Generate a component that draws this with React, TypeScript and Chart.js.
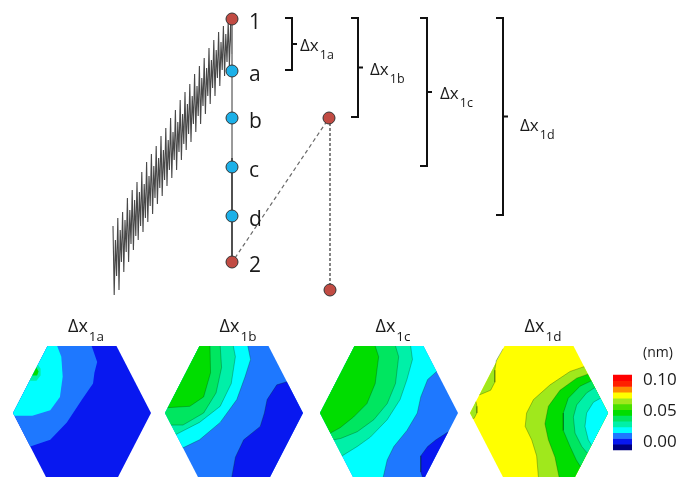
import { useEffect, useRef } from 'react';
import { Chart, registerables } from 'chart.js';

Chart.register(...registerables);

const FONT = '"Open Sans", "Noto Sans", "DejaVu Sans", sans-serif';
const INK = '#1a1a1a';
const W = 677;
const H = 477;

// ---------------- data ----------------
// force trace (sawtooth): alternating local maxima / minima (figure y units)
const sawPeaks = [226, 240, 218, 230, 212, 220, 198, 210, 190, 200, 182, 192, 172, 184, 162, 176, 154, 166, 146, 158, 136, 150, 128, 140, 118, 132, 110, 122, 100, 114, 92, 104, 84, 96, 74, 86, 66, 78, 58, 68, 48, 60, 40, 50, 32, 42, 26, 34, 22, 24];
const sawTroughs = [295, 276, 290, 262, 272, 252, 262, 244, 250, 236, 240, 226, 232, 218, 222, 206, 214, 198, 204, 188, 196, 180, 186, 170, 178, 160, 170, 152, 160, 144, 150, 134, 142, 124, 132, 116, 124, 106, 114, 96, 104, 88, 96, 78, 86, 70, 76, 62, 66, 54];

// stops along the unloading path
const stopNames = ['1', 'a', 'b', 'c', 'd', '2'];
const stopY = [19, 71, 118, 167, 216, 262];
const stopIsEnd = [true, false, false, false, false, true];

// projected point (dashed construction)
const sideY = [118, 290];

// brackets Δx_1a .. Δx_1d (span from stop 1 to stop a..d)
const bracketSubs = ['1a', '1b', '1c', '1d'];
const bracketStop = [1, 2, 3, 4];

// contour levels (low -> high), colour bar labels
const levelColors = ['#000080', '#0818f0', '#1e78ff', '#00ffff', '#00f0a8', '#00e660', '#00dd00', '#48e000', '#a0e81c', '#ffff00', '#ff8c00', '#ff2000', '#ff0000'];
const colorbarTicks = ['0.10', '0.05', '0.00'];
const colorbarTickVals = [0.1, 0.05, 0.0];
const unitLabel = '(nm)';

// hexagon contour maps: [level, contour curve (u,v), closing hex vertices]
type P = [number, number];
type Region = [number, P[], P[]];
const hexTitles = ['1a', '1b', '1c', '1d'];
const hexBaseLevel = [1, 2, 2, 9];
const hex1a: Region[] = [
  [2, [[0.57, 0], [0.61, 0.12], [0.59, 0.2], [0.58, 0.28], [0.5, 0.4], [0.39, 0.57], [0.27, 0.7], [0.125, 0.75]], [[0, 0.5], [0.25, 0]]],
  [3, [[0.32, 0], [0.35, 0.08], [0.36, 0.23], [0.34, 0.38], [0.27, 0.48], [0.14, 0.52], [0.01, 0.52]], [[0, 0.5], [0.25, 0]]],
  [4, [[0.18, 0.14], [0.2, 0.17], [0.2, 0.22], [0.17, 0.26], [0.12, 0.26]], []],
  [6, [[0.17, 0.16], [0.185, 0.19], [0.175, 0.22], [0.14, 0.22]], []],
];
const hex1b: Region[] = [
  [1, [[0.883, 0.266], [0.81, 0.29], [0.74, 0.4], [0.72, 0.5], [0.69, 0.6], [0.57, 0.7], [0.51, 0.83], [0.48, 1]], [[0.75, 1], [1, 0.5]]],
  [3, [[0.6, 0], [0.62, 0.1], [0.58, 0.23], [0.52, 0.4], [0.4, 0.57], [0.25, 0.7], [0.13, 0.76]], [[0, 0.5], [0.25, 0]]],
  [4, [[0.495, 0], [0.51, 0.08], [0.48, 0.28], [0.4, 0.45], [0.25, 0.57], [0.08, 0.66]], [[0, 0.5], [0.25, 0]]],
  [5, [[0.4, 0], [0.41, 0.16], [0.37, 0.35], [0.28, 0.5], [0.13, 0.59], [0.045, 0.59]], [[0, 0.5], [0.25, 0]]],
  [6, [[0.326, 0], [0.33, 0.2], [0.28, 0.38], [0.18, 0.45], [0.02, 0.46]], [[0.25, 0]]],
];
const hex1c: Region[] = [
  [1, [[0.93, 0.64], [0.84, 0.7], [0.78, 0.75], [0.73, 0.82], [0.73, 0.94], [0.75, 1]], []],
  [3, [[0.845, 0.19], [0.78, 0.25], [0.73, 0.38], [0.705, 0.5], [0.63, 0.63], [0.535, 0.75], [0.487, 0.85], [0.46, 0.97], [0.455, 1]], [[0.25, 1], [0, 0.5], [0.25, 0], [0.75, 0]]],
  [4, [[0.657, 0], [0.67, 0.1], [0.63, 0.25], [0.58, 0.4], [0.487, 0.55], [0.365, 0.68], [0.27, 0.75], [0.16, 0.82]], [[0, 0.5], [0.25, 0]]],
  [5, [[0.547, 0], [0.57, 0.08], [0.547, 0.28], [0.487, 0.43], [0.39, 0.55], [0.27, 0.64], [0.15, 0.69], [0.1, 0.7]], [[0, 0.5], [0.25, 0]]],
  [6, [[0.4, 0], [0.425, 0.08], [0.4, 0.28], [0.34, 0.43], [0.243, 0.53], [0.146, 0.61], [0.075, 0.65]], [[0, 0.5], [0.25, 0]]],
];
const hex1d: Region[] = [
  [8, [[0.24, 0.02], [0.19, 0.11], [0.18, 0.18], [0.18, 0.27], [0.15, 0.33], [0.068, 0.365]], []],
  [8, [[0.043, 0.415], [0.05, 0.45], [0.05, 0.5], [0.03, 0.54], [0.02, 0.54]], [[0, 0.5]]],
  [8, [[0.827, 0.154], [0.725, 0.19], [0.58, 0.29], [0.46, 0.4], [0.41, 0.5], [0.4, 0.6], [0.447, 0.7], [0.483, 0.82], [0.495, 0.97], [0.5, 1]], [[0.75, 1], [1, 0.5]]],
  [6, [[0.855, 0.21], [0.773, 0.24], [0.652, 0.33], [0.568, 0.45], [0.543, 0.58], [0.568, 0.7], [0.616, 0.83], [0.64, 0.95], [0.65, 1]], [[0.75, 1], [1, 0.5]]],
  [5, [[0.88, 0.26], [0.797, 0.3], [0.712, 0.39], [0.676, 0.5], [0.676, 0.63], [0.725, 0.75], [0.77, 0.85], [0.8, 0.9]], [[1, 0.5]]],
  [4, [[0.905, 0.31], [0.845, 0.35], [0.773, 0.44], [0.749, 0.53], [0.761, 0.65], [0.81, 0.75], [0.85, 0.8]], [[1, 0.5]]],
  [3, [[0.945, 0.39], [0.894, 0.42], [0.845, 0.5], [0.833, 0.6], [0.857, 0.7], [0.88, 0.74]], [[1, 0.5]]],
];
const hexRegions = [hex1a, hex1b, hex1c, hex1d];
const hexContourLines = [false, true, true, true];

// ---------------- layout ----------------
const SAW_X0 = 113;
const SAW_STEP = 1.2;
const PATH_X = 232;
const PATH_SPLIT = 158;
const SIDE_X = [329, 330];
const STOP_LABEL_X = 249;
const BRACKET_X = [292, 358, 427, 503];
const BRACKET_LABEL_X = [300, 370, 440, 520];
const BRACKET_LABEL_DY = [5.5, 6, 5.5, 13];
const HEX_X0 = [13, 165, 320, 470];
const HEX_W = 138;
const HEX_Y0 = 346;
const HEX_H = 134;
const HEX_OUTLINE: P[] = [[0.25, 0], [0.75, 0], [1, 0.5], [0.75, 1], [0.25, 1], [0, 0.5], [0.25, 0]];
const CB_X = [613, 632];
const CB_Y = [450, 375];
const CB_LABEL_X = 643;

function drawSub(ctx: CanvasRenderingContext2D, x: number, yBase: number, main: string, sub: string, mainPx: number, subPx: number, drop: number, center: boolean) {
  ctx.font = `${mainPx}px ${FONT}`;
  const w1 = ctx.measureText(main).width;
  ctx.font = `${subPx}px ${FONT}`;
  const w2 = ctx.measureText(sub).width;
  const total = w1 + 1 + w2;
  const x0 = center ? x - total / 2 : x;
  ctx.textAlign = 'left';
  ctx.textBaseline = 'alphabetic';
  ctx.font = `${mainPx}px ${FONT}`;
  ctx.fillText(main, x0, yBase);
  ctx.font = `${subPx}px ${FONT}`;
  ctx.fillText(sub, x0 + w1 + 1, yBase + drop);
}

const textPlugin = {
  id: 'figureTexts',
  afterDatasetsDraw(chart: any) {
    const ctx: CanvasRenderingContext2D = chart.ctx;
    const xs = chart.scales.x;
    const ys = chart.scales.y;
    const px = (v: number) => xs.getPixelForValue(v);
    const py = (v: number) => ys.getPixelForValue(v);
    ctx.save();
    ctx.fillStyle = INK;
    // stop labels
    ctx.font = `21px ${FONT}`;
    ctx.textAlign = 'left';
    ctx.textBaseline = 'alphabetic';
    stopNames.forEach((n, i) => ctx.fillText(n, px(STOP_LABEL_X), py(stopY[i]) + 9.5));
    // bracket labels
    bracketSubs.forEach((s, i) => {
      const mid = (stopY[0] + stopY[bracketStop[i]]) / 2;
      drawSub(ctx, px(BRACKET_LABEL_X[i]), py(mid) + BRACKET_LABEL_DY[i], 'Δx', s, 17, 12.5, 8.5, false);
    });
    // hexagon titles
    hexTitles.forEach((s, i) => {
      drawSub(ctx, px(HEX_X0[i] + HEX_W / 2 + 4), py(332), 'Δx', s, 18, 13.5, 8.5, true);
    });
    // colour bar
    ctx.font = `14px ${FONT}`;
    ctx.textBaseline = 'middle';
    ctx.textAlign = 'left';
    ctx.fillText(unitLabel, px(CB_LABEL_X), py(353));
    ctx.font = `17px ${FONT}`;
    colorbarTicks.forEach((t, i) => {
      const yv = 442 - (colorbarTickVals[i] / 0.1) * 62;
      ctx.fillText(t, px(CB_LABEL_X), py(yv));
    });
    ctx.restore();
  },
};

function buildDatasets() {
  const ds: any[] = [];
  const toXY = (pts: P[]) => pts.map(([x, y]) => ({ x, y }));
  const line = (pts: P[], opts: any) =>
    ds.push({ data: toXY(pts), showLine: true, pointRadius: 0, borderWidth: 1, borderColor: '#000', fill: false, tension: 0, ...opts });
  const poly = (pts: P[], color: string) =>
    ds.push({ data: toXY([...pts, pts[0]]), showLine: true, pointRadius: 0, borderWidth: 0, borderColor: 'rgba(0,0,0,0)', backgroundColor: color, fill: 'shape', tension: 0 });

  // hexagon contour maps
  hexRegions.forEach((regions, h) => {
    const tr = (p: P): P => [HEX_X0[h] + p[0] * HEX_W, HEX_Y0 + p[1] * HEX_H];
    poly(HEX_OUTLINE.map(tr), levelColors[hexBaseLevel[h]]);
    regions.forEach(([lvl, curve, close]) => poly([...curve, ...close].map(tr), levelColors[lvl]));
    if (hexContourLines[h]) {
      regions.forEach(([, curve]) => line(curve.map(tr), { borderColor: 'rgba(0,40,0,0.35)', borderWidth: 0.8 }));
    }
  });

  // colour bar
  const n = levelColors.length;
  levelColors.forEach((c, k) => {
    const y0 = CB_Y[0] + ((CB_Y[1] - CB_Y[0]) * k) / n + 0.3;
    const y1 = CB_Y[0] + ((CB_Y[1] - CB_Y[0]) * (k + 1)) / n - 0.3;
    poly([[CB_X[0], y0], [CB_X[1], y0], [CB_X[1], y1], [CB_X[0], y1]], c);
  });

  // sawtooth force trace
  const saw: P[] = [];
  sawPeaks.forEach((p, k) => {
    saw.push([SAW_X0 + 2 * SAW_STEP * k, p]);
    saw.push([SAW_X0 + 2 * SAW_STEP * k + SAW_STEP, sawTroughs[k]]);
  });
  saw.push([PATH_X, stopY[0]]);
  line(saw, { borderColor: '#484848', borderWidth: 1.1 });

  // unloading path
  line([[PATH_X, stopY[0]], [PATH_X, PATH_SPLIT]], { borderColor: '#8c8c8c', borderWidth: 1 });
  line([[PATH_X, PATH_SPLIT], [PATH_X, stopY[5]]], { borderColor: '#262626', borderWidth: 1.6 });

  // dashed construction
  line([[PATH_X + 3, stopY[5] - 4], [SIDE_X[0] - 2, sideY[0] + 3]], { borderColor: '#6a6a6a', borderWidth: 1.2, borderDash: [4, 3] });
  line([[SIDE_X[1], sideY[0] + 5], [SIDE_X[1], sideY[1] - 5]], { borderColor: '#333', borderWidth: 1.2, borderDash: [3, 2] });

  // brackets
  bracketStop.forEach((s, i) => {
    const top = stopY[0] - 1;
    const bot = stopY[s] - 1;
    const mid = (top + bot) / 2;
    const bx = BRACKET_X[i];
    line([[bx - 7, top], [bx, top], [bx, mid], [bx + 5, mid], [bx, mid], [bx, bot], [bx - 7, bot]], { borderColor: '#111', borderWidth: 2, borderJoinStyle: 'miter' });
  });

  // stop markers
  const marks: P[] = stopY.map((y) => [PATH_X, y]);
  marks.push([SIDE_X[0], sideY[0]], [SIDE_X[1], sideY[1]]);
  const markColors = [...stopIsEnd.map((e) => (e ? '#c14b43' : '#1cb0e8')), '#c14b43', '#c14b43'];
  ds.push({
    data: toXY(marks), showLine: false, pointRadius: 6, pointBackgroundColor: markColors,
    pointBorderColor: '#333', pointBorderWidth: 1, borderWidth: 1,
  });

  const N = ds.length;
  ds.forEach((d, i) => (d.order = N - i));
  return ds;
}

export default function App() {
  const ref = useRef<HTMLCanvasElement | null>(null);
  useEffect(() => {
    if (!ref.current) return;
    const chart = new Chart(ref.current, {
      type: 'line',
      data: { datasets: buildDatasets() },
      options: {
        animation: false,
        responsive: false,
        devicePixelRatio: 1,
        events: [],
        layout: { padding: 0, autoPadding: false },
        plugins: { legend: { display: false }, tooltip: { enabled: false } },
        scales: {
          x: { type: 'linear', min: 0, max: W, display: false },
          y: { type: 'linear', min: 0, max: H, reverse: true, display: false },
        },
      },
      plugins: [textPlugin],
    } as any);
    return () => chart.destroy();
  }, []);
  return (
    <div style={{ position: 'fixed', left: 0, top: 0, width: W, height: H, background: '#fff' }}>
      <canvas ref={ref} width={W} height={H} style={{ display: 'block' }} />
    </div>
  );
}
